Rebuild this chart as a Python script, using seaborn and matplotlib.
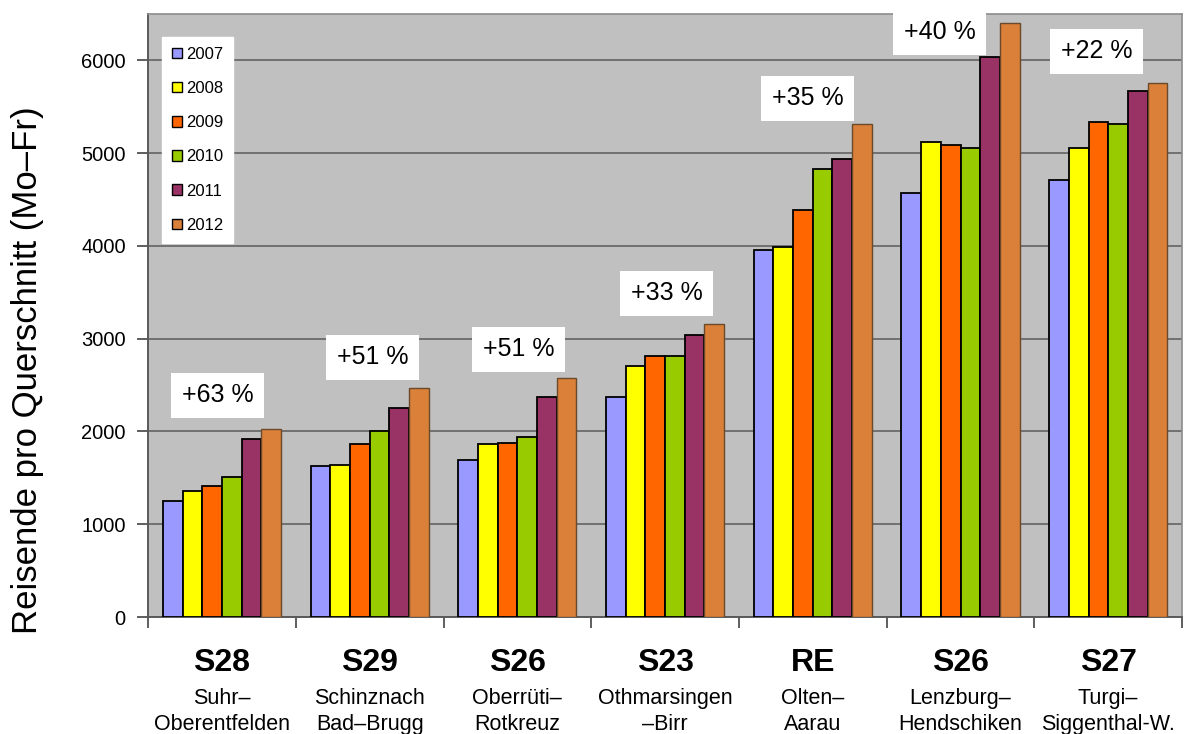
import numpy as np
import pandas as pd
import matplotlib
matplotlib.use("Agg")
import matplotlib.pyplot as plt
import matplotlib.transforms as mtransforms
from matplotlib.patches import Patch
import seaborn as sns

# ---------------- data ----------------
lines = ["S28", "S29", "S26", "S23", "RE", "S26", "S27"]
sections = ["Suhr–\nOberentfelden", "Schinznach\nBad–Brugg", "Oberrüti–\nRotkreuz",
            "Othmarsingen\n–Birr", "Olten–\nAarau", "Lenzburg–\nHendschiken", "Turgi–\nSiggenthal-W."]
years = ["2007", "2008", "2009", "2010", "2011", "2012"]
v2007 = [1250, 1630, 1690, 2370, 3955, 4566, 4710]
v2008 = [1355, 1640, 1860, 2705, 3990, 5115, 5054]
v2009 = [1410, 1860, 1880, 2810, 4386, 5090, 5334]
v2010 = [1510, 2004, 1936, 2810, 4824, 5054, 5316]
v2011 = [1918, 2249, 2374, 3035, 4935, 6031, 5672]
v2012 = [2022, 2464, 2575, 3157, 5312, 6404, 5758]
growth = ["+63 %", "+51 %", "+51 %", "+33 %", "+35 %", "+40 %", "+22 %"]

# ---------------- styling / layout ----------------
colors = ["#9999FF", "#FFFF00", "#FF6600", "#99CC00", "#993366", "#DA8038"]
label_dx = [-0.03, 0.02, 0.007, 0.01, -0.035, -0.14, -0.08]
label_y = [2392, 2802, 2888, 3491, 5593, 6304, 6099]

series = [v2007, v2008, v2009, v2010, v2011, v2012]
keys = [f"{l}|{i}" for i, l in enumerate(lines)]
rows = []
for y, vals in zip(years, series):
    for k, v in zip(keys, vals):
        rows.append({"Strecke": k, "Jahr": y, "Reisende": v})
df = pd.DataFrame(rows)

sns.set_theme(style="white")
plt.rcParams["font.family"] = ["Liberation Sans", "DejaVu Sans"]
plt.rcParams["text.color"] = "black"
plt.rcParams["axes.labelcolor"] = "black"
plt.rcParams["xtick.color"] = "black"
plt.rcParams["ytick.color"] = "black"

fig = plt.figure(figsize=(11.99, 7.34), dpi=100)
ax = fig.add_axes([0.1235, 0.1594, 0.8624, 0.8216])
ax.set_facecolor("#C0C0C0")

sns.barplot(data=df, x="Strecke", y="Reisende", hue="Jahr", order=keys, hue_order=years,
            palette=colors, saturation=1, width=0.8, edgecolor="black", linewidth=1.3,
            ax=ax, legend=False, zorder=3)
# slightly lighter outline on 2012 bars
for cont, yr in zip(ax.containers, years):
    if yr == "2012":
        for p in cont:
            p.set_edgecolor("#6b4a2a")
            p.set_linewidth(1.0)

ax.set_xlim(-0.5, len(lines) - 0.5)
ax.set_ylim(0, 6500)
ax.set_yticks(np.arange(0, 6001, 1000))
ax.yaxis.grid(True, color="#6a6a6a", linewidth=1.3, zorder=0)
ax.set_axisbelow(True)

for s in ["left", "bottom"]:
    ax.spines[s].set_color("#5a5a5a")
    ax.spines[s].set_linewidth(1.4)
for s in ["top", "right"]:
    ax.spines[s].set_color("#8c8c8c")
    ax.spines[s].set_linewidth(1.2)

ax.tick_params(axis="y", which="major", left=True, length=8, width=1.1, color="#333333",
               labelsize=14.5, pad=8, labelcolor="black")
ax.set_xticks(np.arange(len(lines)))
ax.set_xticklabels(sections, fontsize=15.5, linespacing=1.35)
ax.tick_params(axis="x", which="major", length=0, pad=51, labelcolor="black")
ax.set_xticks(np.arange(-0.5, len(lines)), minor=True)
ax.tick_params(axis="x", which="minor", bottom=True, length=8, width=1.1, color="#333333")

ax.set_xlabel("")
ax.set_ylabel("Reisende pro Querschnitt (Mo–Fr)", fontsize=25, va="center", color="black")
ax.yaxis.set_label_coords(-0.117, 0.41)

trans = mtransforms.blended_transform_factory(ax.transData, ax.transAxes)
for i, name in enumerate(lines):
    ax.text(i, -0.076, name, transform=trans, ha="center", va="center",
            fontsize=23, fontweight="bold", color="black")

for i, (g, dx, yy) in enumerate(zip(growth, label_dx, label_y)):
    ax.text(i + dx, yy, g, ha="center", va="center", fontsize=18, color="black", zorder=5,
            bbox=dict(boxstyle="square,pad=0.42", facecolor="white", edgecolor="none"))

handles = [Patch(facecolor=c, edgecolor="black", linewidth=1.0, label=y) for c, y in zip(colors, years)]
leg = ax.legend(handles=handles, loc="upper left", bbox_to_anchor=(0.0135, 0.962),
                borderaxespad=0, fontsize=12, frameon=True, fancybox=False,
                handlelength=0.6, handleheight=0.6, handletextpad=0.25,
                labelspacing=1.15, borderpad=0.6)
leg.get_frame().set_facecolor("white")
leg.get_frame().set_edgecolor("white")
leg.get_frame().set_alpha(1)
leg.set_zorder(6)
for t in leg.get_texts():
    t.set_color("black")

fig.savefig("out.png", dpi=100, facecolor="white")
